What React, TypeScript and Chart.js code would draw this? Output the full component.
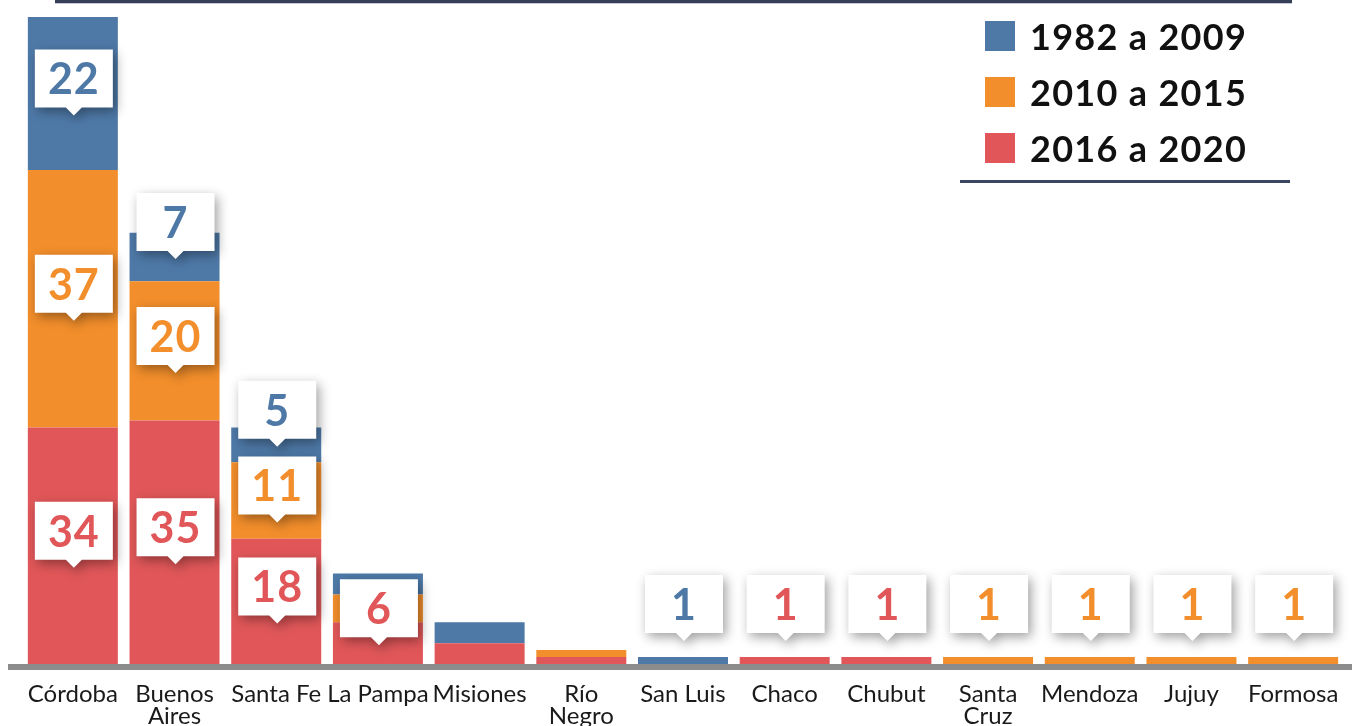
import React, { useEffect, useRef } from "react";
import { Chart, registerables } from "chart.js";

Chart.register(...registerables);

const categories: (string | string[])[] = [
  "Córdoba",
  ["Buenos", "Aires"],
  "Santa Fe",
  "La Pampa",
  "Misiones",
  ["Río", "Negro"],
  "San Luis",
  "Chaco",
  "Chubut",
  ["Santa", "Cruz"],
  "Mendoza",
  "Jujuy",
  "Formosa",
];

const seriesNames = ["1982 a 2009", "2010 a 2015", "2016 a 2020"];
const seriesColors = ["#4e79a7", "#f28e2b", "#e15759"];

const values1982 = [22, 7, 5, 3, 3, 0, 1, 0, 0, 0, 0, 0, 0];
const values2010 = [37, 20, 11, 4, 0, 1, 0, 0, 0, 1, 1, 1, 1];
const values2016 = [34, 35, 18, 6, 3, 1, 0, 1, 1, 0, 0, 0, 0];

const show1982 = [true, true, true, false, false, false, true, false, false, false, false, false, false];
const show2010 = [true, true, true, false, false, false, false, false, false, true, true, true, true];
const show2016 = [true, true, true, true, false, false, false, true, true, false, false, false, false];

const yMax = 93;
const FONT = "Lato, 'Noto Sans', sans-serif";

const decorPlugin = {
  id: "decor",
  afterDatasetsDraw(chart: any) {
    const ctx = chart.ctx as CanvasRenderingContext2D;
    const area = chart.chartArea;
    // baseline
    ctx.save();
    ctx.fillStyle = "#8c8c8c";
    ctx.fillRect(8, area.bottom, chart.width - 8, 6);
    ctx.restore();

    // callout labels
    chart.data.datasets.forEach((ds: any, di: number) => {
      const meta = chart.getDatasetMeta(di);
      const shows: boolean[] = ds.showLabels;
      meta.data.forEach((el: any, j: number) => {
        if (!shows[j]) return;
        const v = ds.data[j];
        if (!v) return;
        const top = Math.min(el.y, el.base);
        const bottom = Math.max(el.y, el.base);
        const h = bottom - top;
        const center = (top + bottom) / 2;
        let stackTop = top;
        chart.data.datasets.forEach((_d: any, k: number) => {
          const e = chart.getDatasetMeta(k).data[j];
          if (e && chart.data.datasets[k].data[j]) stackTop = Math.min(stackTop, e.y);
        });
        let tip: number;
        if (h >= 70) tip = center + 22;
        else if (h >= 30) tip = center + 2;
        else tip = stackTop - 16;
        const bw = 78;
        const bh = 58;
        const th = 8;
        const tw = 8;
        const x = el.x + 1;
        const boxBottom = tip - th;
        const boxTop = boxBottom - bh;
        ctx.save();
        ctx.shadowColor = "rgba(0,0,0,0.38)";
        ctx.shadowBlur = 12;
        ctx.shadowOffsetX = 3;
        ctx.shadowOffsetY = 4;
        ctx.fillStyle = "#ffffff";
        ctx.beginPath();
        ctx.moveTo(x - bw / 2, boxTop);
        ctx.lineTo(x + bw / 2, boxTop);
        ctx.lineTo(x + bw / 2, boxBottom);
        ctx.lineTo(x + tw, boxBottom);
        ctx.lineTo(x, tip);
        ctx.lineTo(x - tw, boxBottom);
        ctx.lineTo(x - bw / 2, boxBottom);
        ctx.closePath();
        ctx.fill();
        ctx.restore();
        ctx.save();
        ctx.fillStyle = ds.backgroundColor;
        ctx.font = `bold 43px ${FONT}`;
        (ctx as any).letterSpacing = "1px";
        ctx.textAlign = "center";
        ctx.textBaseline = "middle";
        ctx.fillText(String(v), x, boxTop + bh / 2 + 2);
        (ctx as any).letterSpacing = "0px";
        ctx.restore();
      });
    });
  },
  afterDraw(chart: any) {
    const ctx = chart.ctx as CanvasRenderingContext2D;
    ctx.save();
    // top rule
    ctx.fillStyle = "#363f58";
    ctx.fillRect(55, 0, 1237, 3);
    ctx.fillStyle = "#c5cad6";
    ctx.fillRect(55, 3, 1237, 1);
    // legend
    [0, 1, 2].forEach((i, k) => {
      const y = 21 + k * 56;
      ctx.fillStyle = seriesColors[i];
      ctx.fillRect(985, y, 30, 30);
      ctx.fillStyle = "#111111";
      ctx.font = `bold 36px ${FONT}`;
      (ctx as any).letterSpacing = "1.3px";
      ctx.textAlign = "left";
      ctx.textBaseline = "middle";
      ctx.fillText(seriesNames[i], 1030, y + 17);
    });
    (ctx as any).letterSpacing = "0px";
    ctx.fillStyle = "#3b4662";
    ctx.fillRect(960, 180, 330, 3);
    ctx.restore();
  },
};

export default function App() {
  const ref = useRef<HTMLCanvasElement | null>(null);
  useEffect(() => {
    if (!ref.current) return;
    const chart = new Chart(ref.current, {
      type: "bar",
      data: {
        labels: categories,
        datasets: [
          {
            label: seriesNames[2],
            data: values2016,
            backgroundColor: seriesColors[2],
            showLabels: show2016,
          } as any,
          {
            label: seriesNames[1],
            data: values2010,
            backgroundColor: seriesColors[1],
            showLabels: show2010,
          } as any,
          {
            label: seriesNames[0],
            data: values1982,
            backgroundColor: seriesColors[0],
            showLabels: show1982,
          } as any,
        ],
      },
      options: {
        animation: false,
        responsive: false,
        maintainAspectRatio: false,
        layout: { padding: { left: 22, right: 8, top: 17, bottom: 0 } },
        datasets: { bar: { categoryPercentage: 1, barPercentage: 0.885, borderWidth: 0 } },
        plugins: { legend: { display: false }, tooltip: { enabled: false } },
        scales: {
          x: {
            stacked: true,
            grid: { display: false, drawTicks: false },
            border: { display: false },
            ticks: {
              color: "#1a1a1a",
              padding: 19,
              maxRotation: 0,
              autoSkip: false,
              font: { family: FONT, size: 24, lineHeight: 0.92 },
            },
            afterFit(scale: any) {
              scale.height = 62;
              scale.paddingLeft = 0;
              scale.paddingRight = 0;
            },
          },
          y: {
            stacked: true,
            display: false,
            min: 0,
            max: yMax,
          },
        },
      },
      plugins: [decorPlugin],
    });
    return () => chart.destroy();
  }, []);
  return (
    <div style={{ position: "fixed", left: 0, top: 0, width: 1352, height: 726, background: "#fff" }}>
      <canvas ref={ref} width={1352} height={726} style={{ display: "block" }} />
    </div>
  );
}
